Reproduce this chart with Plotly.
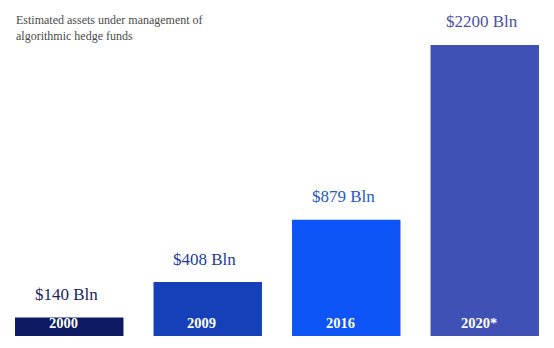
import plotly.graph_objects as go

# Estimated AUM of algorithmic hedge funds (billions USD)
years = ["2000", "2009", "2016", "2020*"]
aum_bln = [140, 408, 879, 2200]
value_labels = ["$140 Bln", "$408 Bln", "$879 Bln", "$2200 Bln"]
bar_colors = ["#0b1a62", "#1540b8", "#0d55f7", "#3f51b5"]
label_colors = ["#1b2366", "#1e3aa3", "#2457cf", "#4b50a8"]

serif = "Liberation Serif, Times New Roman, serif"

fig = go.Figure(
    go.Bar(
        x=years,
        y=aum_bln,
        marker=dict(color=bar_colors, line=dict(width=0)),
        hoverinfo="skip",
    )
)

annotations = []
for i, (yr, val, lab, col) in enumerate(zip(years, aum_bln, value_labels, label_colors)):
    # value above each bar
    annotations.append(dict(
        x=i, y=val, xref="x", yref="y", text=lab, showarrow=False,
        yanchor="middle", yshift=23, xshift=-3,
        font=dict(family=serif, size=17, color=col),
    ))
    # year inside the bar, near its base
    annotations.append(dict(
        x=i, y=0, xref="x", yref="y", text=f"<b>{yr}</b>", showarrow=False,
        yanchor="middle", yshift=13, xshift=-6,
        font=dict(family=serif, size=14.5, color="white"),
    ))

annotations.append(dict(
    x=14 / 554, y=1, xref="paper", yref="paper", xanchor="left", yanchor="top",
    yshift=-11,
    text="Estimated assets under management of<br>algorithmic hedge funds",
    showarrow=False, align="left",
    font=dict(family=serif, size=12, color="#4a4a4a"),
))

fig.update_layout(
    width=554,
    height=348,
    margin=dict(l=0, r=0, t=0, b=12),
    paper_bgcolor="white",
    plot_bgcolor="white",
    bargap=0.217,
    showlegend=False,
    xaxis=dict(visible=False, type="category", range=[-0.5, 3.5]),
    yaxis=dict(visible=False, range=[0, 2540]),
    annotations=annotations,
)

fig.write_html("out.html")
